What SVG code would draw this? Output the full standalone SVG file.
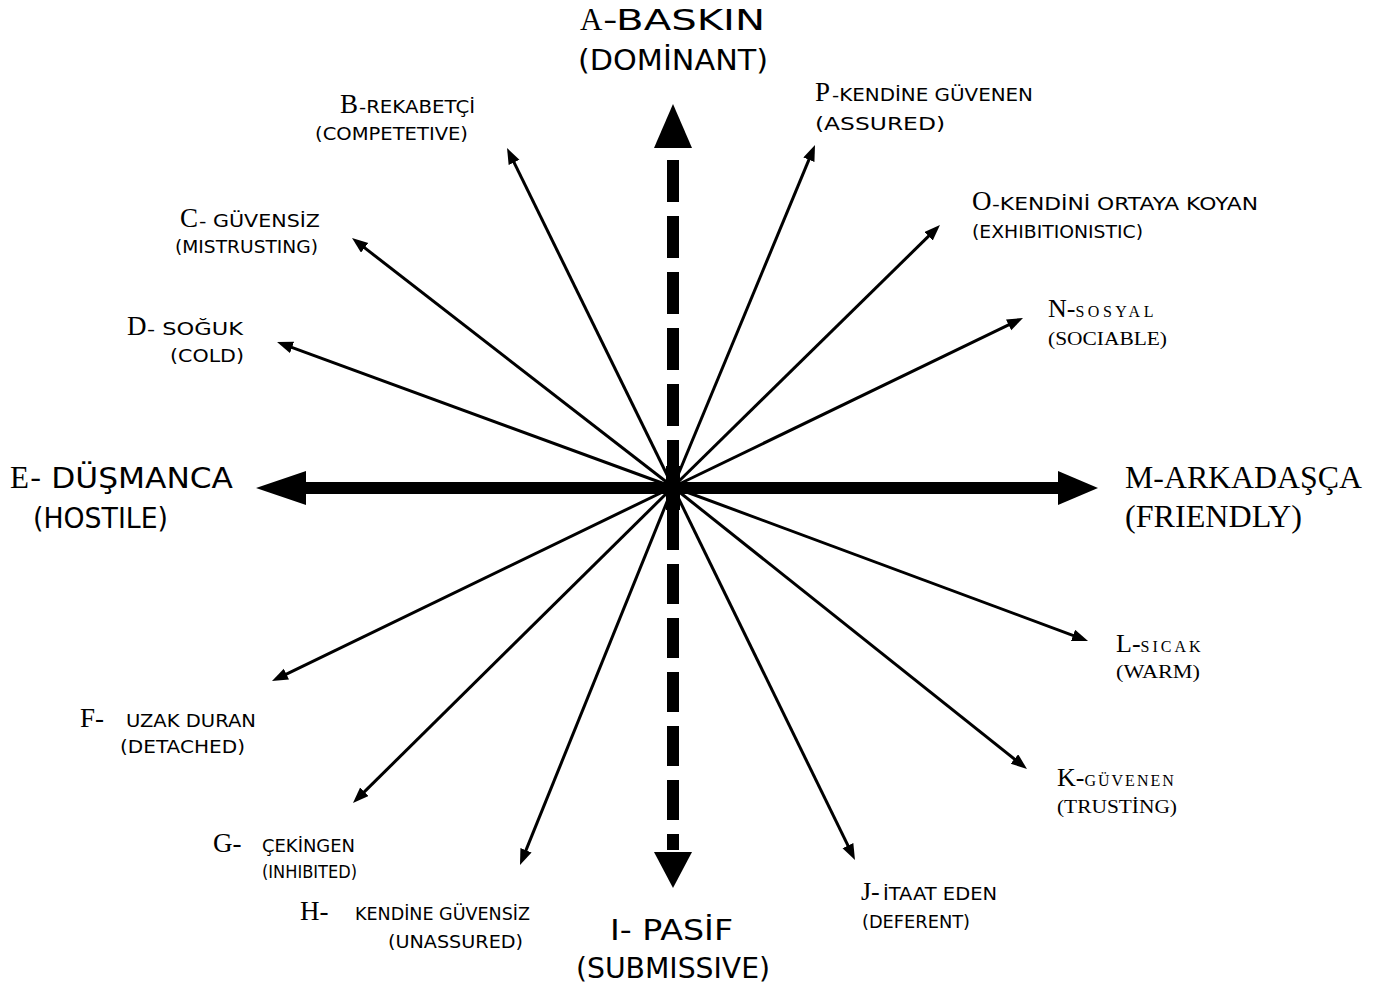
<svg xmlns="http://www.w3.org/2000/svg" width="1389" height="989" viewBox="0 0 1389 989">
<style>
.g{font-family:"DejaVu Sans","Liberation Sans",sans-serif;fill:#000}
.t{font-family:"Liberation Serif","Times New Roman",serif;fill:#000}
.s{font-size:17px}
.b{font-size:28px}
.thin{stroke:#000;stroke-width:3;fill:none;marker-end:url(#ah)}
</style>
<defs>
<marker id="ah" markerUnits="userSpaceOnUse" markerWidth="18" markerHeight="14" refX="4" refY="6" orient="auto">
<path d="M0,0 L16,6 L0,12 z" fill="#000"/>
</marker>
</defs>
<rect width="1389" height="989" fill="#fff"/>
<g id="connectors">
<line class="thin" x1="673" y1="487" x2="512.3" y2="158.8"/>
<line class="thin" x1="673" y1="487" x2="810.4" y2="156.1"/>
<line class="thin" x1="673" y1="487" x2="361.5" y2="245.4"/>
<line class="thin" x1="673" y1="487" x2="931.4" y2="233.4"/>
<line class="thin" x1="673" y1="487" x2="288.3" y2="346.1"/>
<line class="thin" x1="673" y1="487" x2="1012.2" y2="323.2"/>
<line class="thin" x1="673" y1="487" x2="282.8" y2="675.8"/>
<line class="thin" x1="673" y1="487" x2="1076.8" y2="636.8"/>
<line class="thin" x1="673" y1="487" x2="361.5" y2="794.6"/>
<line class="thin" x1="673" y1="487" x2="1017.6" y2="761.5"/>
<line class="thin" x1="673" y1="487" x2="524.5" y2="853.9"/>
<line class="thin" x1="673" y1="487" x2="849.7" y2="849.2"/>
<line x1="300" y1="488" x2="1062" y2="488" stroke="#000" stroke-width="12"/>
<polygon points="256,488 306,471 306,505" fill="#000"/>
<polygon points="1098,488 1058,471 1058,505" fill="#000"/>
<line x1="673" y1="160" x2="673" y2="470" stroke="#000" stroke-width="12" stroke-dasharray="42 14"/>
<line x1="673" y1="510" x2="673" y2="850" stroke="#000" stroke-width="12" stroke-dasharray="40 14"/>
<polygon points="673,104 654,148 692,148" fill="#000"/>
<polygon points="673,888 654,852 692,852" fill="#000"/>
<rect x="666" y="466" width="14" height="44" fill="#000"/>
</g>
<g id="A">
<text class="t" x="580" y="30" font-size="31">A</text>
<text class="g b" x="603" y="30" textLength="162" lengthAdjust="spacingAndGlyphs">-BASKIN</text>
<text class="g b" x="578" y="70" textLength="190" lengthAdjust="spacingAndGlyphs">(DOMİNANT)</text>
</g>
<g id="B">
<text class="t" x="340" y="113" font-size="27">B</text>
<text class="g s" x="359" y="113" textLength="116" lengthAdjust="spacingAndGlyphs">-REKABETÇİ</text>
<text class="g s" x="315" y="140" textLength="153" lengthAdjust="spacingAndGlyphs">(COMPETETIVE)</text>
</g>
<g id="P">
<text class="t" x="815" y="101" font-size="27">P</text>
<text class="g s" x="832" y="101" textLength="201" lengthAdjust="spacingAndGlyphs">-KENDİNE GÜVENEN</text>
<text class="g s" x="815" y="130" textLength="130" lengthAdjust="spacingAndGlyphs">(ASSURED)</text>
</g>
<g id="C">
<text class="t" x="180" y="227" font-size="27">C</text>
<text class="g s" x="199" y="227" textLength="121" lengthAdjust="spacingAndGlyphs">- GÜVENSİZ</text>
<text class="g s" x="175" y="253" textLength="143" lengthAdjust="spacingAndGlyphs">(MISTRUSTING)</text>
</g>
<g id="O">
<text class="t" x="972" y="210" font-size="27">O</text>
<text class="g s" x="992" y="210" textLength="266" lengthAdjust="spacingAndGlyphs">-KENDİNİ ORTAYA KOYAN</text>
<text class="g s" x="972" y="238" textLength="171" lengthAdjust="spacingAndGlyphs">(EXHIBITIONISTIC)</text>
</g>
<g id="D">
<text class="t" x="127" y="335" font-size="27">D</text>
<text class="g s" x="147" y="335" textLength="96" lengthAdjust="spacingAndGlyphs">- SOĞUK</text>
<text class="g s" x="170" y="362" textLength="74" lengthAdjust="spacingAndGlyphs">(COLD)</text>
</g>
<g id="N">
<text class="t" x="1048" y="317"><tspan font-size="26">N-</tspan><tspan font-size="16" letter-spacing="3.5">SOSYAL</tspan></text>
<text class="t" x="1048" y="345" font-size="19" textLength="119" lengthAdjust="spacingAndGlyphs">(SOCIABLE)</text>
</g>
<g id="E">
<text class="t" x="10" y="488" font-size="31">E</text>
<text class="g b" x="30" y="488" textLength="203" lengthAdjust="spacingAndGlyphs">- DÜŞMANCA</text>
<text class="g b" x="33" y="528" textLength="135" lengthAdjust="spacingAndGlyphs">(HOSTILE)</text>
</g>
<g id="M">
<text class="t" x="1125" y="488" font-size="31" textLength="237" lengthAdjust="spacingAndGlyphs">M-ARKADAŞÇA</text>
<text class="t" x="1125" y="527" font-size="31" textLength="177" lengthAdjust="spacingAndGlyphs">(FRIENDLY)</text>
</g>
<g id="L">
<text class="t" x="1116" y="652"><tspan font-size="26">L-</tspan><tspan font-size="16" letter-spacing="3">SICAK</tspan></text>
<text class="t" x="1116" y="678" font-size="19" textLength="84" lengthAdjust="spacingAndGlyphs">(WARM)</text>
</g>
<g id="F">
<text class="t" x="80" y="727" font-size="27">F-</text>
<text class="g s" x="126" y="727" textLength="130" lengthAdjust="spacingAndGlyphs">UZAK DURAN</text>
<text class="g s" x="120" y="753" textLength="125" lengthAdjust="spacingAndGlyphs">(DETACHED)</text>
</g>
<g id="K">
<text class="t" x="1057" y="786"><tspan font-size="26">K-</tspan><tspan font-size="16" letter-spacing="2">GÜVENEN</tspan></text>
<text class="t" x="1057" y="813" font-size="19" textLength="120" lengthAdjust="spacingAndGlyphs">(TRUSTİNG)</text>
</g>
<g id="G">
<text class="t" x="213" y="852" font-size="27">G-</text>
<text class="g s" x="262" y="852" textLength="93" lengthAdjust="spacingAndGlyphs">ÇEKİNGEN</text>
<text class="g s" x="262" y="878" textLength="95" lengthAdjust="spacingAndGlyphs">(INHIBITED)</text>
</g>
<g id="J">
<text class="t" x="861" y="900" font-size="26">J-</text>
<text class="g s" x="883" y="900" textLength="114" lengthAdjust="spacingAndGlyphs">İTAAT EDEN</text>
<text class="g s" x="862" y="928" textLength="108" lengthAdjust="spacingAndGlyphs">(DEFERENT)</text>
</g>
<g id="H">
<text class="t" x="300" y="920" font-size="27">H-</text>
<text class="g s" x="355" y="920" textLength="175" lengthAdjust="spacingAndGlyphs">KENDİNE GÜVENSİZ</text>
<text class="g s" x="388" y="948" textLength="135" lengthAdjust="spacingAndGlyphs">(UNASSURED)</text>
</g>
<g id="I">
<text class="g b" x="610" y="940" textLength="123" lengthAdjust="spacingAndGlyphs">I- PASİF</text>
<text class="g b" x="576" y="978" textLength="194" lengthAdjust="spacingAndGlyphs">(SUBMISSIVE)</text>
</g>
</svg>
